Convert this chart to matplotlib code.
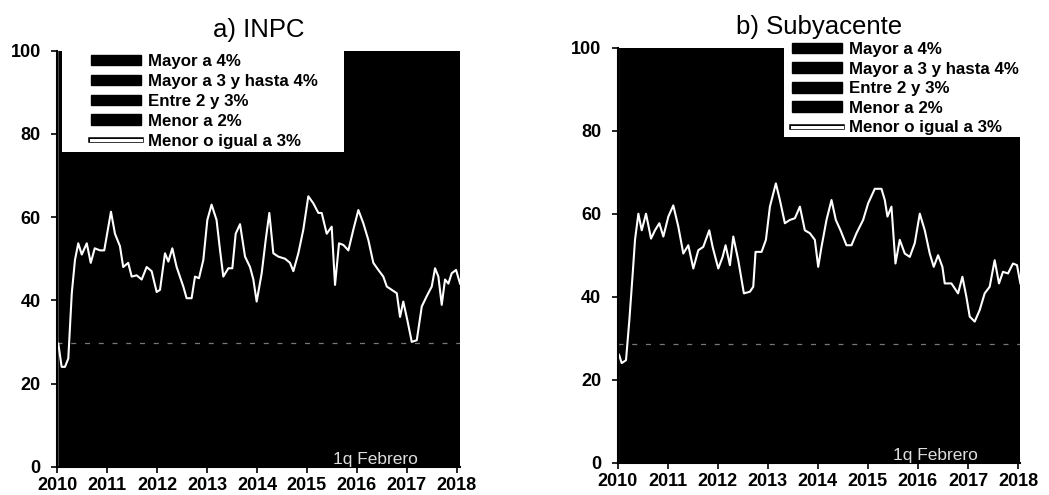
import numpy as np
import matplotlib.pyplot as plt
from matplotlib.patches import Patch, Rectangle
from matplotlib.lines import Line2D
import matplotlib.patheffects as pe

plt.rcParams['font.family'] = ['Liberation Sans', 'DejaVu Sans']

# a) INPC: share of items with inflation <= 3% (white line)
inpc_x = [2010.02, 2010.087, 2010.154, 2010.22, 2010.29, 2010.354, 2010.42, 2010.49, 2010.59, 2010.67,
          2010.75, 2010.855, 2010.94, 2011.075, 2011.155, 2011.255, 2011.32, 2011.42, 2011.49, 2011.59,
          2011.69, 2011.79, 2011.89, 2011.99, 2012.057, 2012.157, 2012.224, 2012.304, 2012.39, 2012.524,
          2012.59, 2012.69, 2012.758, 2012.838, 2012.925, 2013.005, 2013.09, 2013.19, 2013.26, 2013.325,
          2013.426, 2013.506, 2013.573, 2013.66, 2013.76, 2013.86, 2013.927, 2013.993, 2014.094, 2014.174,
          2014.247, 2014.327, 2014.427, 2014.561, 2014.661, 2014.728, 2014.828, 2014.928, 2015.028, 2015.129,
          2015.229, 2015.296, 2015.396, 2015.496, 2015.563, 2015.643, 2015.73, 2015.83, 2015.93, 2016.03,
          2016.13, 2016.23, 2016.33, 2016.43, 2016.53, 2016.6, 2016.70, 2016.80, 2016.865, 2016.93,
          2017.01, 2017.10, 2017.2, 2017.30, 2017.40, 2017.50, 2017.566, 2017.633, 2017.70, 2017.766,
          2017.833, 2017.9, 2017.987, 2018.067]
inpc_y = [29.6, 24, 24, 26, 41.7, 49.7, 53.7, 51, 53.7, 49,
          52.5, 52, 52, 61.3, 56, 53, 48, 49, 45.7, 46,
          45, 48, 47, 42, 42.5, 51.3, 49.3, 52.5, 48, 43.3,
          40.5, 40.5, 45.7, 45.3, 49.7, 59.3, 63, 59.3, 52, 45.7,
          47.7, 47.7, 56, 58.3, 50.5, 48, 45, 39.7, 46.5, 54.5,
          61, 51.3, 50.5, 50, 49, 47, 51.3, 57, 65, 63.3,
          61, 61, 56, 57.7, 43.7, 53.7, 53.3, 52, 57, 61.7,
          58.5, 54.5, 49, 47.3, 45.7, 43.3, 42.5, 41.7, 36, 39.7,
          35.3, 30, 30.4, 38.5, 41, 43.3, 47.7, 45.7, 38.9, 45,
          44, 46.5, 47.3, 44]

# b) Subyacente
sub_x = [2010.027, 2010.08, 2010.166, 2010.233, 2010.30, 2010.346, 2010.413, 2010.48, 2010.566, 2010.666,
         2010.745, 2010.832, 2010.912, 2011.012, 2011.111, 2011.211, 2011.311, 2011.411, 2011.511, 2011.611,
         2011.71, 2011.83, 2011.897, 2012.01, 2012.097, 2012.156, 2012.243, 2012.31, 2012.409, 2012.522,
         2012.642, 2012.709, 2012.755, 2012.875, 2012.962, 2013.042, 2013.161, 2013.241, 2013.341, 2013.441,
         2013.541, 2013.641, 2013.74, 2013.84, 2013.94, 2014.007, 2014.073, 2014.173, 2014.273, 2014.359,
         2014.453, 2014.572, 2014.672, 2014.772, 2014.905, 2015.005, 2015.138, 2015.271, 2015.338, 2015.391,
         2015.471, 2015.551, 2015.637, 2015.737, 2015.837, 2015.937, 2016.037, 2016.137, 2016.236, 2016.316,
         2016.403, 2016.489, 2016.536, 2016.669, 2016.802, 2016.889, 2016.968, 2017.035, 2017.135, 2017.235,
         2017.334, 2017.434, 2017.534, 2017.62, 2017.70, 2017.8, 2017.9, 2017.98, 2018.047]
sub_y = [26, 24, 24.7, 34.4, 45.6, 53.7, 60, 56, 60, 54,
         56, 57.7, 54.5, 59.3, 62, 56.9, 50.4, 52.4, 46.8, 51.2,
         52, 56, 52, 46.8, 49.6, 52.4, 47.6, 54.5, 48.8, 40.8,
         41.2, 42.4, 50.8, 50.8, 53.7, 61.7, 67.3, 63.3, 57.7, 58.5,
         58.9, 61.7, 56, 55.3, 53.7, 47.2, 52, 58.5, 63.3, 58.5,
         56, 52.4, 52.4, 55.3, 58.5, 62.5, 66, 66, 63.3, 59.3,
         61.7, 48, 53.7, 50.4, 49.6, 52.9, 60, 56, 50.4, 47.2,
         50, 47.2, 43.2, 43.2, 40.8, 44.8, 40, 35.2, 34, 36.8,
         40.8, 42.4, 48.8, 43.2, 46, 45.6, 48, 47.6, 43.2]

labels = ['Mayor a 4%', 'Mayor a 3 y hasta 4%', 'Entre 2 y 3%', 'Menor a 2%', 'Menor o igual a 3%']
years = list(range(2010, 2019))
yticks = [0, 20, 40, 60, 80, 100]
ref_level = {'a': 29.7, 'b': 28.6}

fig = plt.figure(figsize=(10.49, 4.95), dpi=100)
W, H = 1049, 495

panels = [
    ('a) INPC', inpc_x, inpc_y, ref_level['a'], [57.3, 50.7, 460, 466.7], 2018.066,
     (62, 50.7, 344, 152), 30, -1, 0.29),
    ('b) Subyacente', sub_x, sub_y, ref_level['b'], [617.7, 47.7, 1020, 462.7], 2018.04,
     (784, 47.7, 1022, 137), 9, -10, 0.27),
]

for title, xs, ys, ref, box, xmax, lbox, off, dy, lsp in panels:
    x0, y0, x1, y1 = box
    ax = fig.add_axes([x0 / W, 1 - y1 / H, (x1 - x0) / W, (y1 - y0) / H])
    xs = np.array(xs)
    ys = np.array(ys)
    ax.stackplot(xs, ys, 100 - ys, colors=['black', 'black'], linewidth=0)
    ax.axhline(ref, color='#777777', lw=0.9, ls=(0, (4, 7)))
    ax.plot(xs, ys, color='white', lw=1.5)
    ax.set_xlim(2010, xmax)
    ax.set_ylim(0, 100)
    ax.set_xticks(years)
    ax.set_yticks(yticks)
    ax.tick_params(labelsize=13, direction='out', length=4, width=1.2)
    ax.tick_params(axis='y', pad=8)
    for lab in ax.get_xticklabels() + ax.get_yticklabels():
        lab.set_fontweight('bold')
    for s in ['top', 'right']:
        ax.spines[s].set_visible(False)
    for s in ['left', 'bottom']:
        ax.spines[s].set_linewidth(1.5)
    ax.set_title(title, fontsize=18.5, pad=10)
    ax.text(0.79, 0.0, '1q Febrero', transform=ax.transAxes, color='#dddddd',
            fontsize=12.5, ha='center', va='bottom')

    # white legend panel
    lx0, ly0, lx1, ly1 = lbox
    fig.patches.append(Rectangle((lx0 / W, 1 - ly1 / H), (lx1 - lx0) / W, (ly1 - ly0) / H,
                                 transform=fig.transFigure, facecolor='white', edgecolor='none', zorder=5))
    handles = [Patch(facecolor='black', edgecolor='black') for _ in range(4)]
    handles.append(Line2D([], [], color='white', lw=2.2,
                          path_effects=[pe.Stroke(linewidth=4, foreground='black'), pe.Normal()]))
    leg = fig.legend(handles, labels, loc='upper left',
                     bbox_to_anchor=((lx0 + off - 4) / W, 1 - (ly0 + 1 + dy) / H),
                     frameon=False, fontsize=12.2, handlelength=2.9, handleheight=0.6,
                     handletextpad=0.45, labelspacing=lsp, borderpad=0.2, borderaxespad=0)
    leg.set_zorder(6)
    for t in leg.get_texts():
        t.set_fontweight('bold')

fig.savefig('out.png', dpi=100, facecolor='white')
